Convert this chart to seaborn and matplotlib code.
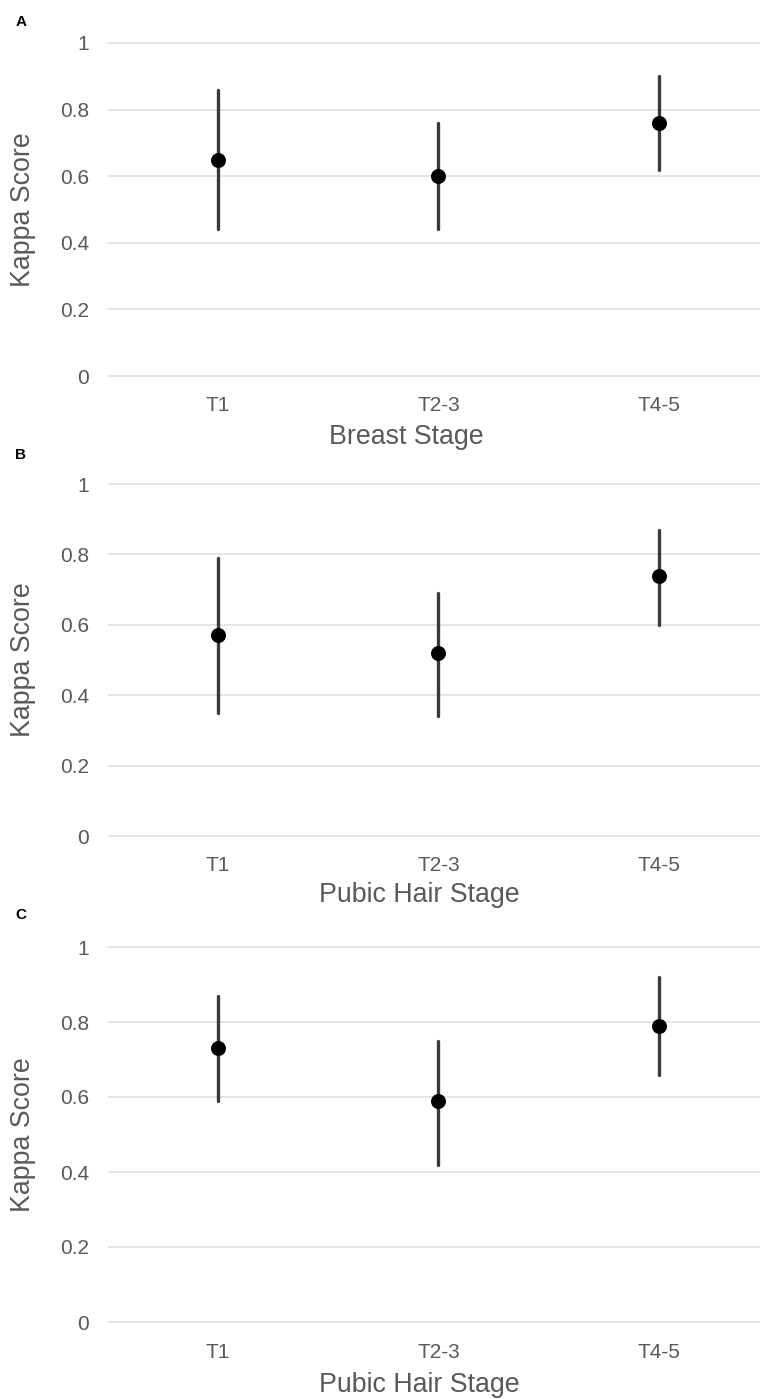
import matplotlib
matplotlib.use("Agg")
import matplotlib.pyplot as plt
import seaborn as sns
import pandas as pd

categories = ["T1", "T2-3", "T4-5"]

# Panel A: Breast stage
kappa_A = [0.65, 0.60, 0.76]
lo_A = [0.44, 0.44, 0.62]
hi_A = [0.86, 0.76, 0.90]

# Panel B: Pubic hair stage
kappa_B = [0.57, 0.52, 0.74]
lo_B = [0.35, 0.34, 0.60]
hi_B = [0.79, 0.69, 0.87]

# Panel C: Pubic hair stage
kappa_C = [0.73, 0.59, 0.79]
lo_C = [0.59, 0.42, 0.66]
hi_C = [0.87, 0.75, 0.92]

panel_letters = ["A", "B", "C"]
x_titles = ["Breast Stage", "Pubic Hair Stage", "Pubic Hair Stage"]
y_title = "Kappa Score"
y_ticks = [0, 0.2, 0.4, 0.6, 0.8, 1]
y_ticklabels = ["0", "0.2", "0.4", "0.6", "0.8", "1"]

sns.set_theme(style="white")
plt.rcParams["font.family"] = ["Liberation Sans", "DejaVu Sans"]

W, H = 760, 1399
fig = plt.figure(figsize=(W / 100, H / 100), dpi=100)

# pixel positions of value 0 and value 1 for each panel
panel_px = [(376, 43), (836, 484), (1322, 947)]
letter_y = [22, 455, 915]
xlabel_px = [(406, 437), (419, 895), (419, 1385)]
left_px, right_px = 108, 760
m = 0.03
grey = "#595959"

datasets = [(kappa_A, lo_A, hi_A), (kappa_B, lo_B, hi_B), (kappa_C, lo_C, hi_C)]

for i, ((k, lo, hi), (p0, p1)) in enumerate(zip(datasets, panel_px)):
    ppu = p0 - p1
    bot = p0 + m * ppu
    top = p1 - m * ppu
    ax = fig.add_axes([left_px / W, 1 - bot / H, (right_px - left_px) / W, (bot - top) / H])

    rows = []
    for c, a, b, d in zip(categories, k, lo, hi):
        for v in (b, a, d):
            rows.append({"stage": c, "kappa": v})
    df = pd.DataFrame(rows)

    sns.pointplot(data=df, x="stage", y="kappa", order=categories,
                  estimator="median", errorbar=("pi", 100),
                  color="black", linestyle="none", marker="o", markersize=10.8,
                  err_kws={"color": "#3a3a3a", "linewidth": 2.4}, ax=ax)
    for ln in ax.lines:
        if ln.get_marker() == "o":
            ln.set_zorder(5)
            ln.set_markeredgewidth(0)

    ax.set_xlim(-0.5, 2.46)
    ax.set_ylim(-m, 1 + m)
    ax.set_yticks(y_ticks)
    ax.set_yticklabels(y_ticklabels)
    ax.yaxis.grid(True, color="#e3e3e3", linewidth=1.3)
    ax.set_axisbelow(True)
    for s in ax.spines.values():
        s.set_visible(False)
    ax.tick_params(axis="both", length=0, labelsize=15, labelcolor=grey)
    ax.tick_params(axis="y", pad=13.5)
    ax.tick_params(axis="x", pad=7)
    ax.set_xlabel(x_titles[i], fontsize=19.3, color=grey)
    ax.xaxis.label.set_va("center")
    lx, ly = xlabel_px[i]
    ax.xaxis.set_label_coords((lx - left_px) / (right_px - left_px), (bot - ly) / (bot - top))
    ax.set_ylabel("")
    fig.text(23 / W, 1 - ((p0 + p1) / 2) / H, y_title, rotation=90, fontsize=19.3,
             color=grey, ha="center", va="center")
    fig.text(21 / W, 1 - letter_y[i] / H, panel_letters[i], fontsize=11,
             fontweight="bold", color="black", ha="center", va="center")

fig.savefig("out.png", dpi=100, facecolor="white")
